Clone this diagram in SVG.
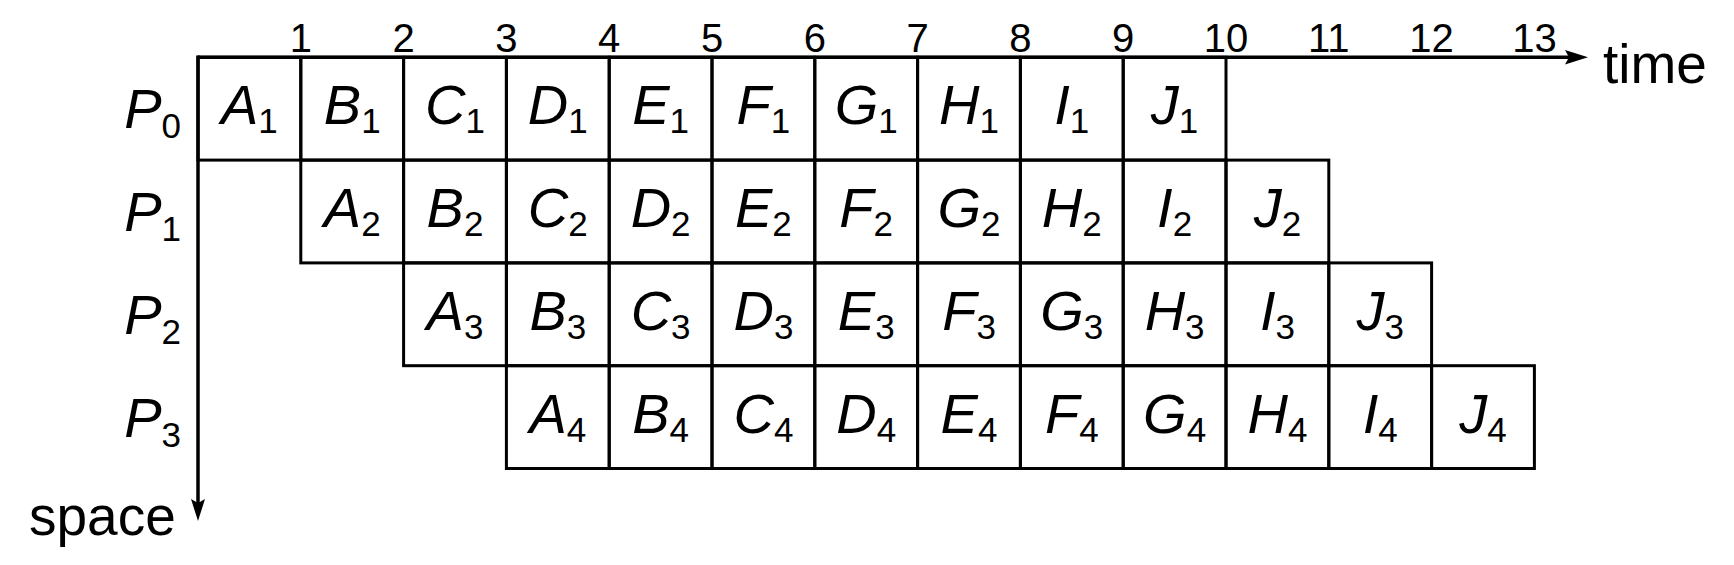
<svg xmlns="http://www.w3.org/2000/svg" width="1734" height="565" viewBox="0 0 1734 565">
<style>
.c rect{fill:none;stroke:#000;stroke-width:3}
.c text{font-family:"Liberation Sans",Arial,sans-serif;font-style:italic;font-size:56px;text-anchor:middle;fill:#000}
.s{font-style:normal;font-size:35px}
.p{font-family:"Liberation Sans",Arial,sans-serif;font-style:italic;font-size:56px;text-anchor:end;fill:#000}
.n{font-family:"Liberation Sans",Arial,sans-serif;font-size:40px;text-anchor:middle;fill:#000}
.ax{font-family:"Liberation Sans",Arial,sans-serif;font-size:55px;fill:#000}
.ln{stroke:#000;stroke-width:3.5;fill:none}
</style>
<g id="connectors">
<line class="ln" x1="198" y1="57.3" x2="1570" y2="57.3"/>
<polygon points="1588,57.3 1565,50 1569,57.3 1565,64.6" fill="#000"/>
<line class="ln" x1="198" y1="55.6" x2="198" y2="503"/>
<polygon points="198,521 191,499 198,503 205,499" fill="#000"/>
</g>
<g id="axis-labels">
<text class="ax" x="1603" y="82.7">time</text>
<text class="ax" x="29" y="535">space</text>
<text class="n" x="300.8" y="51.7">1</text>
<text class="n" x="403.6" y="51.7">2</text>
<text class="n" x="506.4" y="51.7">3</text>
<text class="n" x="609.2" y="51.7">4</text>
<text class="n" x="712" y="51.7">5</text>
<text class="n" x="814.8" y="51.7">6</text>
<text class="n" x="917.6" y="51.7">7</text>
<text class="n" x="1020.4" y="51.7">8</text>
<text class="n" x="1123.2" y="51.7">9</text>
<text class="n" x="1226" y="51.7">10</text>
<text class="n" x="1328.8" y="51.7">11</text>
<text class="n" x="1431.6" y="51.7">12</text>
<text class="n" x="1534.4" y="51.7">13</text>
</g>
<g id="processors">
<text class="p" x="181" y="128.3">P<tspan class="s" dy="10">0</tspan></text>
<text class="p" x="181" y="231.1">P<tspan class="s" dy="10">1</tspan></text>
<text class="p" x="181" y="333.9">P<tspan class="s" dy="10">2</tspan></text>
<text class="p" x="181" y="436.7">P<tspan class="s" dy="10">3</tspan></text>
</g>
<g id="row0" class="c">
<g id="A1"><rect x="198" y="57.3" width="102.8" height="102.8"/><text x="249.4" y="124.3">A<tspan class="s" dy="9">1</tspan></text></g>
<g id="B1"><rect x="300.8" y="57.3" width="102.8" height="102.8"/><text x="352.2" y="124.3">B<tspan class="s" dy="9">1</tspan></text></g>
<g id="C1"><rect x="403.6" y="57.3" width="102.8" height="102.8"/><text x="455" y="124.3">C<tspan class="s" dy="9">1</tspan></text></g>
<g id="D1"><rect x="506.4" y="57.3" width="102.8" height="102.8"/><text x="557.8" y="124.3">D<tspan class="s" dy="9">1</tspan></text></g>
<g id="E1"><rect x="609.2" y="57.3" width="102.8" height="102.8"/><text x="660.6" y="124.3">E<tspan class="s" dy="9">1</tspan></text></g>
<g id="F1"><rect x="712" y="57.3" width="102.8" height="102.8"/><text x="763.4" y="124.3">F<tspan class="s" dy="9">1</tspan></text></g>
<g id="G1"><rect x="814.8" y="57.3" width="102.8" height="102.8"/><text x="866.2" y="124.3">G<tspan class="s" dy="9">1</tspan></text></g>
<g id="H1"><rect x="917.6" y="57.3" width="102.8" height="102.8"/><text x="969" y="124.3">H<tspan class="s" dy="9">1</tspan></text></g>
<g id="I1"><rect x="1020.4" y="57.3" width="102.8" height="102.8"/><text x="1071.8" y="124.3">I<tspan class="s" dy="9">1</tspan></text></g>
<g id="J1"><rect x="1123.2" y="57.3" width="102.8" height="102.8"/><text x="1174.6" y="124.3">J<tspan class="s" dy="9">1</tspan></text></g>
</g>
<g id="row1" class="c">
<g id="A2"><rect x="300.8" y="160.1" width="102.8" height="102.8"/><text x="352.2" y="227.1">A<tspan class="s" dy="9">2</tspan></text></g>
<g id="B2"><rect x="403.6" y="160.1" width="102.8" height="102.8"/><text x="455" y="227.1">B<tspan class="s" dy="9">2</tspan></text></g>
<g id="C2"><rect x="506.4" y="160.1" width="102.8" height="102.8"/><text x="557.8" y="227.1">C<tspan class="s" dy="9">2</tspan></text></g>
<g id="D2"><rect x="609.2" y="160.1" width="102.8" height="102.8"/><text x="660.6" y="227.1">D<tspan class="s" dy="9">2</tspan></text></g>
<g id="E2"><rect x="712" y="160.1" width="102.8" height="102.8"/><text x="763.4" y="227.1">E<tspan class="s" dy="9">2</tspan></text></g>
<g id="F2"><rect x="814.8" y="160.1" width="102.8" height="102.8"/><text x="866.2" y="227.1">F<tspan class="s" dy="9">2</tspan></text></g>
<g id="G2"><rect x="917.6" y="160.1" width="102.8" height="102.8"/><text x="969" y="227.1">G<tspan class="s" dy="9">2</tspan></text></g>
<g id="H2"><rect x="1020.4" y="160.1" width="102.8" height="102.8"/><text x="1071.8" y="227.1">H<tspan class="s" dy="9">2</tspan></text></g>
<g id="I2"><rect x="1123.2" y="160.1" width="102.8" height="102.8"/><text x="1174.6" y="227.1">I<tspan class="s" dy="9">2</tspan></text></g>
<g id="J2"><rect x="1226" y="160.1" width="102.8" height="102.8"/><text x="1277.4" y="227.1">J<tspan class="s" dy="9">2</tspan></text></g>
</g>
<g id="row2" class="c">
<g id="A3"><rect x="403.6" y="262.9" width="102.8" height="102.8"/><text x="455" y="329.9">A<tspan class="s" dy="9">3</tspan></text></g>
<g id="B3"><rect x="506.4" y="262.9" width="102.8" height="102.8"/><text x="557.8" y="329.9">B<tspan class="s" dy="9">3</tspan></text></g>
<g id="C3"><rect x="609.2" y="262.9" width="102.8" height="102.8"/><text x="660.6" y="329.9">C<tspan class="s" dy="9">3</tspan></text></g>
<g id="D3"><rect x="712" y="262.9" width="102.8" height="102.8"/><text x="763.4" y="329.9">D<tspan class="s" dy="9">3</tspan></text></g>
<g id="E3"><rect x="814.8" y="262.9" width="102.8" height="102.8"/><text x="866.2" y="329.9">E<tspan class="s" dy="9">3</tspan></text></g>
<g id="F3"><rect x="917.6" y="262.9" width="102.8" height="102.8"/><text x="969" y="329.9">F<tspan class="s" dy="9">3</tspan></text></g>
<g id="G3"><rect x="1020.4" y="262.9" width="102.8" height="102.8"/><text x="1071.8" y="329.9">G<tspan class="s" dy="9">3</tspan></text></g>
<g id="H3"><rect x="1123.2" y="262.9" width="102.8" height="102.8"/><text x="1174.6" y="329.9">H<tspan class="s" dy="9">3</tspan></text></g>
<g id="I3"><rect x="1226" y="262.9" width="102.8" height="102.8"/><text x="1277.4" y="329.9">I<tspan class="s" dy="9">3</tspan></text></g>
<g id="J3"><rect x="1328.8" y="262.9" width="102.8" height="102.8"/><text x="1380.2" y="329.9">J<tspan class="s" dy="9">3</tspan></text></g>
</g>
<g id="row3" class="c">
<g id="A4"><rect x="506.4" y="365.7" width="102.8" height="102.8"/><text x="557.8" y="432.7">A<tspan class="s" dy="9">4</tspan></text></g>
<g id="B4"><rect x="609.2" y="365.7" width="102.8" height="102.8"/><text x="660.6" y="432.7">B<tspan class="s" dy="9">4</tspan></text></g>
<g id="C4"><rect x="712" y="365.7" width="102.8" height="102.8"/><text x="763.4" y="432.7">C<tspan class="s" dy="9">4</tspan></text></g>
<g id="D4"><rect x="814.8" y="365.7" width="102.8" height="102.8"/><text x="866.2" y="432.7">D<tspan class="s" dy="9">4</tspan></text></g>
<g id="E4"><rect x="917.6" y="365.7" width="102.8" height="102.8"/><text x="969" y="432.7">E<tspan class="s" dy="9">4</tspan></text></g>
<g id="F4"><rect x="1020.4" y="365.7" width="102.8" height="102.8"/><text x="1071.8" y="432.7">F<tspan class="s" dy="9">4</tspan></text></g>
<g id="G4"><rect x="1123.2" y="365.7" width="102.8" height="102.8"/><text x="1174.6" y="432.7">G<tspan class="s" dy="9">4</tspan></text></g>
<g id="H4"><rect x="1226" y="365.7" width="102.8" height="102.8"/><text x="1277.4" y="432.7">H<tspan class="s" dy="9">4</tspan></text></g>
<g id="I4"><rect x="1328.8" y="365.7" width="102.8" height="102.8"/><text x="1380.2" y="432.7">I<tspan class="s" dy="9">4</tspan></text></g>
<g id="J4"><rect x="1431.6" y="365.7" width="102.8" height="102.8"/><text x="1483" y="432.7">J<tspan class="s" dy="9">4</tspan></text></g>
</g>
</svg>
